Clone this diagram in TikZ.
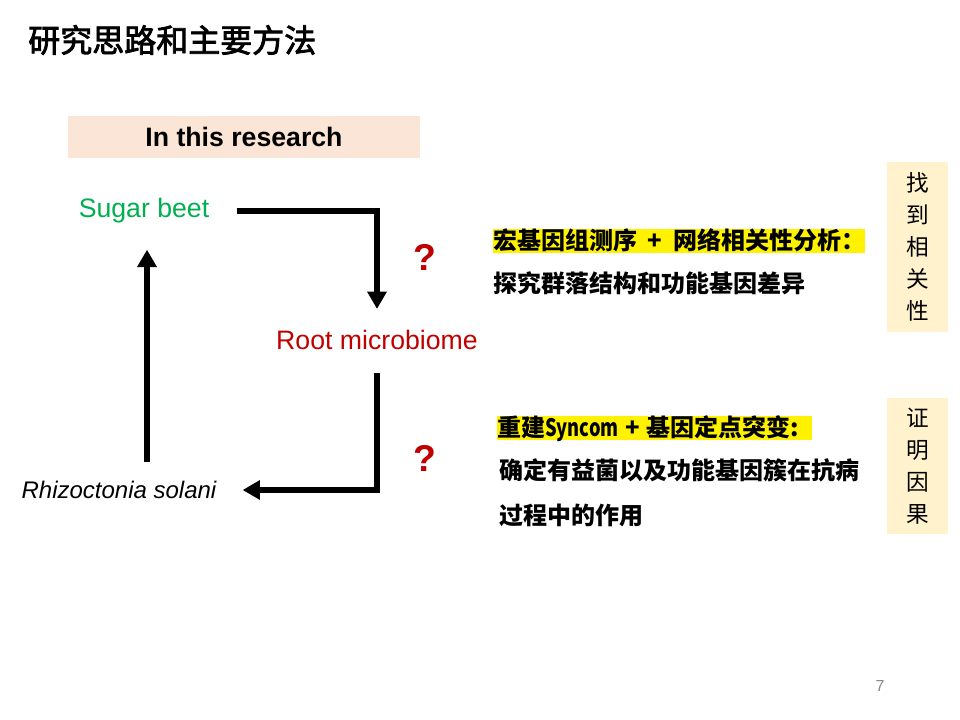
\documentclass[tikz,border=0pt]{standalone}
\usepackage{fontspec}
\setmainfont{Liberation Sans}
\newfontfamily\cjk{Noto Sans CJK SC}
\newfontfamily\cjkhead[FakeBold=2.5]{Noto Sans CJK SC}
\usetikzlibrary{arrows.meta,calc}
\definecolor{leafgreen}{HTML}{00B050}
\definecolor{rootred}{HTML}{C00000}
\definecolor{peach}{HTML}{FBE5D6}
\definecolor{cream}{HTML}{FFF2CC}
\definecolor{pagegray}{HTML}{888888}
% narrow Latin inside the Chinese lines
\newcommand{\narrowlatin}[1]{\scalebox{0.76}[1]{#1}}
\newcommand{\pluswide}[1]{\hspace{#1}+\hspace{#1}}
\begin{document}
\begin{tikzpicture}[x=0.75pt,y=-0.75pt,
  lbl/.style={inner sep=0pt, font=\fontsize{20}{24}\selectfont},
  flow/.style={line width=4.5pt, -{Triangle[length=13pt,width=14pt]}},
  ask/.style={inner sep=0pt, text=rootred, font=\fontsize{28}{32}\selectfont\bfseries},
  hl/.style={fill=yellow, inner sep=0pt, anchor=west, font=\cjk\bfseries\fontsize{18}{20}\selectfont, text height=15pt, text depth=2.5pt},
  body/.style={inner sep=0pt, anchor=west, font=\cjk\bfseries\fontsize{18}{20}\selectfont},
  tag/.style={fill=cream, inner sep=0pt, minimum width=45.75pt, align=center, font=\cjk\fontsize{17}{24}\selectfont}]
\useasboundingbox (0,0) rectangle (960,720);
\fill[white] (0,0) rectangle (960,720);

% heading
\node[anchor=west, inner sep=0pt, font=\cjkhead\fontsize{24}{28}\selectfont] (title) at (28,40) {研究思路和主要方法};

% banner
\node[fill=peach, minimum width=264pt, minimum height=31.5pt, inner sep=0pt, font=\bfseries\fontsize{20}{24}\selectfont] (scope) at (244,137) {In this research};

% the three actors
\node[lbl, text=leafgreen] (sb) at (144,211) {Sugar beet};
\node[lbl, text=rootred] (rm) at (377,340) {Root microbiome};
\node[lbl, font=\itshape\fontsize{18}{22}\selectfont] (rs) at (119,490) {Rhizoctonia solani};

% cycle of arrows
\draw[flow] ($(sb.east)+(27,0)$) -| ($(rm.north)+(0,-21)$);
\draw[flow] ($(rm.south)+(0,23)$) |- ($(rs.east)+(26,0)$);
\draw[flow] ($(rs.north -| sb.south)+(3,-19)$) -- ($(sb.south)+(3,26)$);

\node[ask] (q1) at (425,257) {?};
\node[ask] (q2) at (425,458) {?};

% methods
\node[hl] (m1) at (493,241) {宏基因组测序\pluswide{8pt}网络相关性分析：};
\node[body] (m2) at (493,283) {探究群落结构和功能基因差异};
\node[hl] (s1) at (497,428) {重建\narrowlatin{Syncom}\pluswide{5pt}基因定点突变:\hspace*{10pt}};
\node[body] (s2) at (499,470) {确定有益菌以及功能基因簇在抗病};
\node[body] (s3) at (499,515) {过程中的作用};

% side tags
\node[tag, minimum height=127.5pt] (t1) at (917.5,247) {找\\到\\相\\关\\性};
\node[tag, minimum height=102pt] (t2) at (917.5,466) {证\\明\\因\\果};

\node[text=pagegray, inner sep=0pt, font=\fontsize{12}{14}\selectfont] (pg) at (880,686) {7};
\end{tikzpicture}
\end{document}
